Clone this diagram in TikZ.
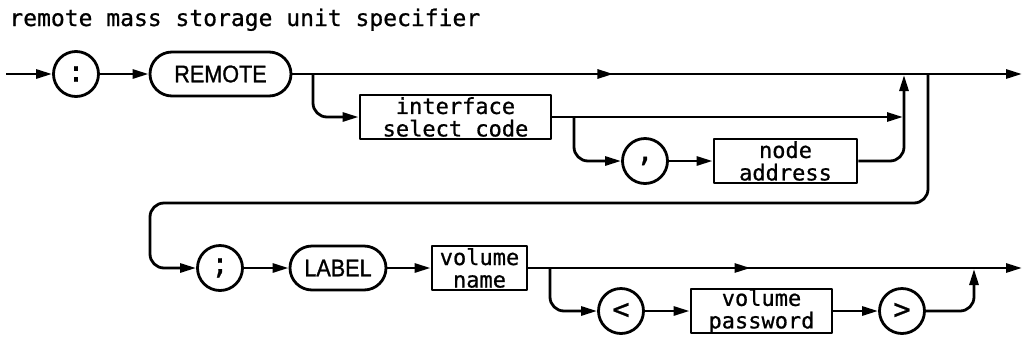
\documentclass[tikz,border=0pt]{standalone}
\usepackage{fontspec}
\newfontfamily\hpmono[FakeBold=0.8]{DejaVu Sans Mono}
\newfontfamily\hpsans[FakeStretch=0.9,FakeBold=1.2]{Liberation Sans}
\usetikzlibrary{arrows.meta,decorations.markings}
\begin{document}
\begin{tikzpicture}[x=1pt,y=-1pt,
  line width=2.8pt, line join=round,
  tip/.tip={Triangle[length=16pt,width=9pt]},
  conn/.style={-tip},
  midarrow/.style={postaction={decorate},decoration={markings,mark=at position #1 with {\arrow{Triangle[length=16pt,width=9pt]}}}},
  term/.style={draw,circle,minimum size=45pt,inner sep=0pt,font=\hpmono\fontsize{29}{29}\selectfont},
  kw/.style={draw,rectangle,rounded corners=22pt,minimum height=44pt,inner sep=0pt,font=\hpsans\fontsize{24}{24}\selectfont},
  ntm/.style={draw,rectangle,minimum height=44pt,inner sep=0pt,align=center,font=\hpmono\fontsize{22}{22.5}\selectfont},
  corner/.style={rounded corners=14pt}]
\useasboundingbox (0,0) rectangle (1026,349);
\node[anchor=base west,inner sep=0pt,font=\hpmono\fontsize{23}{23}\selectfont] (title) at (8,26) {remote mass storage unit specifier};
% row 1
\coordinate (start) at (6,74);
\node[term] (colon) at (76,74) {:};
\node[kw,minimum width=141pt] (remote) at (220.5,74) {REMOTE};
\node[ntm,minimum width=191pt] (isc) at (455.5,117) {interface\\select code};
\node[term] (comma) at (645,161) {,};
\node[ntm,minimum width=143pt] (naddr) at (785.5,161) {node\\address};
\coordinate (end1) at (1022,74);
\coordinate (b1) at (313,74);
\coordinate (b2) at (574,117);
\coordinate (j1) at (903,117);
\coordinate (j1top) at (904,75);
\coordinate (d1) at (928,74);
\coordinate (d2) at (150,203);
% row 2
\node[term] (semi) at (220,268) {;};
\node[kw,minimum width=96pt] (label) at (338,268) {LABEL};
\node[ntm,minimum width=95pt] (vname) at (479.5,268) {volume\\name};
\node[term] (lt) at (621,311) {<};
\node[ntm,minimum width=141pt] (vpw) at (761.5,311) {volume\\password};
\node[term] (gt) at (902,311) {>};
\coordinate (end2) at (1022,268);
\coordinate (b3) at (550,268);
\coordinate (j2top) at (974,269);
% connectors row 1
\draw[conn] (start) -- (colon);
\draw[conn] (colon) -- (remote);
\draw[conn,midarrow=0.44] (remote.east) -- (end1);
\draw[conn,corner] (b1) |- (isc.west);
\draw[conn] (isc.east) -- (j1);
\draw[conn,corner] (b2) |- (comma.west);
\draw[conn] (comma) -- (naddr);
\draw[conn,corner] (naddr.east) -| (j1top);
\draw[conn,corner] (d1) |- (d2) |- (semi.west);
% connectors row 2
\draw[conn] (semi) -- (label);
\draw[conn] (label) -- (vname);
\draw[conn,midarrow=0.45] (vname.east) -- (end2);
\draw[conn,corner] (b3) |- (lt.west);
\draw[conn] (lt) -- (vpw);
\draw[conn] (vpw) -- (gt);
\draw[conn,corner] (gt.east) -| (j2top);
\end{tikzpicture}
\end{document}
